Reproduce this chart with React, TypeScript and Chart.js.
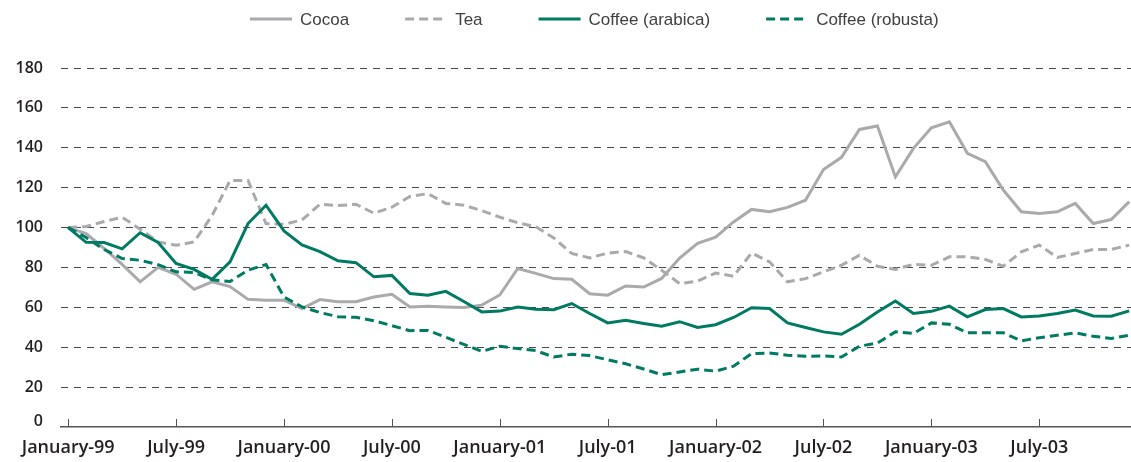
import { useEffect, useRef } from 'react';
import { Chart, registerables } from 'chart.js';

Chart.register(...registerables);

// Monthly price indices, January 1999 = 100 (Jan-99 … Dec-03)
const tickLabels = [
  'January-99', 'July-99', 'January-00', 'July-00', 'January-01',
  'July-01', 'January-02', 'July-02', 'January-03', 'July-03',
];

const cocoa = [
  100, 97, 89.5, 81.5, 72.8, 80, 76.6, 69, 72.8, 70.4, 64, 63.6,
  63.6, 59.4, 63.9, 62.8, 62.8, 65.2, 66.5, 60.2, 60.5, 60.2, 59.9, 61.1,
  66.2, 79.5, 77, 74.4, 74.1, 66.8, 66.1, 70.7, 70.2, 74.5, 84.7, 92.1,
  95.2, 102.8, 109.1, 107.9, 110.1, 113.7, 129.1, 135.2, 149.2, 150.9, 125.4, 139.7,
  150, 153, 137.2, 133, 118.8, 107.9, 107.1, 107.9, 112.1, 102, 104, 113,
];

const tea = [
  100, 100.5, 103, 105.2, 99.2, 92.8, 91.1, 92.8, 106, 123.6, 123.6, 102,
  101.6, 103.8, 111.7, 111, 111.7, 107.2, 110.2, 115.6, 117, 112.1, 111.2, 108.5,
  105.2, 102.4, 100.4, 94.8, 87, 84.8, 87.2, 88, 84.8, 78.6, 71.9, 73.2,
  77.2, 75.6, 87.3, 82.8, 72.8, 74.4, 77.8, 81.1, 86.1, 80.6, 79, 81.6,
  81.1, 85.3, 85.3, 84, 80.6, 87.8, 91.2, 85, 87, 89, 89, 91.2,
];

const coffeeArabica = [
  100, 92.6, 92.5, 89.3, 97.4, 92.5, 82, 79, 74, 82.8, 102, 111.2,
  98.3, 91.3, 87.9, 83.3, 82.4, 75.3, 76, 66.9, 66.1, 68, 62.9, 57.7,
  58.1, 60.1, 59.1, 58.8, 61.9, 56.9, 52.2, 53.5, 51.9, 50.5, 52.8, 49.9,
  51.3, 54.9, 59.8, 59.4, 52.2, 49.9, 47.7, 46.5, 51.5, 57.7, 63.2, 56.9,
  58, 60.6, 55.2, 58.9, 59.4, 55.2, 55.7, 56.9, 58.6, 55.7, 55.5, 58.2,
];

const coffeeRobusta = [
  100, 95, 89, 84.5, 83.6, 81.4, 77.8, 77.5, 73.8, 73, 78.6, 81.5,
  65.2, 60.2, 57.4, 55.3, 55, 53.3, 50.8, 48.3, 48.4, 45, 41.4, 37.9,
  40.5, 39.3, 38.3, 35.1, 36.5, 35.8, 33.7, 31.7, 29.1, 26.2, 27.6, 29,
  28, 30.5, 36.8, 37.1, 36, 35.5, 35.6, 35.1, 40.5, 42.1, 47.7, 46.9,
  52.2, 51.5, 47.2, 47.2, 47.2, 43.2, 44.8, 46, 47.2, 45.5, 44.4, 46,
];

const GREEN = '#007a62';
const GREY = '#aaaaad';
const TEXT = '#231f20';
const TICK_FONT = '"Open Sans", "Noto Sans", sans-serif';

const toPoints = (values: number[]) => values.map((y, x) => ({ x, y }));

// Series key drawn across the top: line sample followed by the series name
const seriesKey = {
  id: 'seriesKey',
  afterDraw(chart: any) {
    const { ctx } = chart;
    const y = 19;
    let x = 250;
    ctx.save();
    ctx.font = '17px "Liberation Sans", Arial, sans-serif';
    ctx.textBaseline = 'middle';
    ctx.textAlign = 'left';
    chart.data.datasets.forEach((ds: any) => {
      ctx.strokeStyle = ds.borderColor;
      ctx.lineWidth = 3;
      ctx.setLineDash(ds.borderDash || []);
      ctx.beginPath();
      ctx.moveTo(x, y);
      ctx.lineTo(x + 42, y);
      ctx.stroke();
      ctx.setLineDash([]);
      ctx.fillStyle = '#404040';
      ctx.fillText(ds.label, x + 50, y + 1);
      x += 50 + ctx.measureText(ds.label).width + 56;
    });
    ctx.restore();
  },
};

// Short tick marks rising from the category axis, plus the zero label set just above it
const axisTicks = {
  id: 'axisTicks',
  afterDraw(chart: any) {
    const { ctx, scales } = chart;
    const xs = scales.x;
    const ys = scales.y;
    const bottom = chart.chartArea.bottom;
    ctx.save();
    ctx.strokeStyle = '#555555';
    ctx.lineWidth = 1;
    xs.ticks.forEach((t: any) => {
      const px = Math.round(xs.getPixelForValue(t.value)) + 0.5;
      ctx.beginPath();
      ctx.moveTo(px, bottom);
      ctx.lineTo(px, bottom - 8);
      ctx.stroke();
    });
    ctx.fillStyle = TEXT;
    ctx.font = `600 16px ${TICK_FONT}`;
    ctx.textAlign = 'right';
    ctx.textBaseline = 'middle';
    ctx.fillText('0', ys.right - 18, ys.getPixelForValue(0) - 6);
    ctx.restore();
  },
};

export default function App() {
  const ref = useRef<HTMLCanvasElement>(null);

  useEffect(() => {
    const line = (label: string, values: number[], color: string, dashed: boolean, order: number) => ({
      label,
      data: toPoints(values),
      borderColor: color,
      backgroundColor: color,
      borderWidth: 3,
      borderDash: dashed ? [9, 5] : [],
      pointRadius: 0,
      tension: 0,
      fill: false,
      order,
    });

    const chart = new Chart(ref.current!, {
      type: 'line',
      data: {
        datasets: [
          line('Cocoa', cocoa, GREY, false, 3),
          line('Tea', tea, GREY, true, 4),
          line('Coffee (arabica)', coffeeArabica, GREEN, false, 1),
          line('Coffee (robusta)', coffeeRobusta, GREEN, true, 2),
        ] as any,
      },
      options: {
        responsive: false,
        animation: false,
        events: [],
        layout: { padding: { top: 68, left: 0, right: 0, bottom: 0 } },
        plugins: {
          legend: { display: false },
          tooltip: { enabled: false },
        },
        scales: {
          x: {
            type: 'linear',
            min: -0.4,
            max: 59.1,
            afterBuildTicks: (axis: any) => {
              axis.ticks = tickLabels.map((_, k) => ({ value: k * 6 }));
            },
            afterFit: (axis: any) => {
              axis.height = 35;
            },
            grid: { display: false, drawTicks: false },
            border: { display: true, color: '#555555', width: 1.5 },
            ticks: {
              autoSkip: false,
              maxRotation: 0,
              padding: 10,
              color: TEXT,
              font: { family: TICK_FONT, size: 18, weight: 600 },
              callback: (v: any) => tickLabels[Math.round(Number(v) / 6)] ?? '',
            },
          },
          y: {
            min: 0,
            max: 180,
            afterFit: (axis: any) => {
              axis.width = 61;
            },
            grid: {
              drawTicks: false,
              lineWidth: 1,
              color: (c: any) => (c.tick && c.tick.value === 0 ? 'rgba(0,0,0,0)' : '#4a4a4a'),
            },
            border: { display: false, dash: [7, 6] },
            ticks: {
              stepSize: 20,
              padding: 18,
              color: TEXT,
              font: { family: TICK_FONT, size: 16, weight: 600 },
              callback: (v: any) => (Number(v) === 0 ? '' : String(v)),
            },
          },
        },
      } as any,
      plugins: [seriesKey, axisTicks],
    });

    return () => chart.destroy();
  }, []);

  return (
    <div style={{ position: 'absolute', left: 0, top: 0, width: 1131, height: 462, overflow: 'hidden', background: '#ffffff' }}>
      <canvas ref={ref} width={1131} height={462} style={{ display: 'block' }} />
    </div>
  );
}
